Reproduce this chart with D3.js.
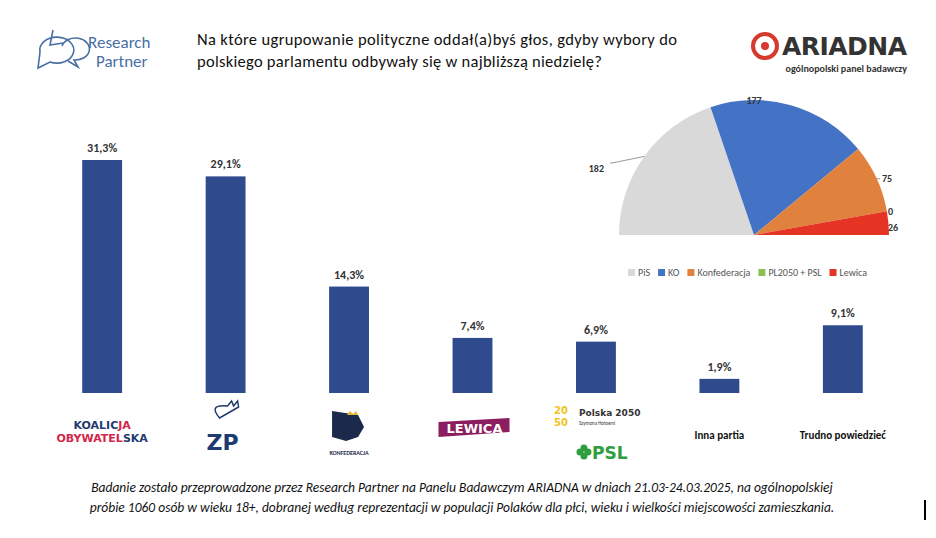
<!DOCTYPE html><html><head><meta charset="utf-8"><script src="https://cdn.jsdelivr.net/npm/d3@7"></script>
<style>body{margin:0;background:#fff}svg{font-family:Calibri,Carlito,"Open Sans",sans-serif}</style></head><body><svg id="c" width="936" height="538"></svg>
<script>
const categories=["KO","ZP","Konfederacja","Lewica","Polska 2050 / PSL","Inna partia","Trudno powiedzieć"];
const values=[31.3,29.1,14.3,7.4,6.9,1.9,9.1];
const labels=["31,3%","29,1%","14,3%","7,4%","6,9%","1,9%","9,1%"];
const seatParties=["PiS","KO","Konfederacja","PL2050 + PSL","Lewica"];
const seats=[182,177,75,0,26];
const seatColors=["#d9d9d9","#4472c4","#e0813d","#8cc152","#e53424"];
const svg=d3.select("#c");
// header
const g0=svg.append("g");
g0.append("path").attr("d","M40,52 a17,13 0 1,1 10,10 l-12,6 z").attr("fill","none").attr("stroke","#4a6fa5").attr("stroke-width",1.6);
g0.append("path").attr("d","M62,46 a14,11 0 1,1 12,14 l4,7 l-10,-6").attr("fill","none").attr("stroke","#4a6fa5").attr("stroke-width",1.6);
g0.append("path").attr("d","M53,30 l-3,15 l13,-2").attr("fill","none").attr("stroke","#4a6fa5").attr("stroke-width",1.6);
g0.append("text").attr("x",88).attr("y",48).attr("font-size",17).attr("fill","#4a6fa5").text("Research");
g0.append("text").attr("x",96).attr("y",67).attr("font-size",17).attr("fill","#4a6fa5").text("Partner");
svg.append("text").attr("x",197).attr("y",45).attr("font-size",16.5).attr("fill","#111").attr("textLength",480).text("Na które ugrupowanie polityczne oddał(a)byś głos, gdyby wybory do");
svg.append("text").attr("x",197).attr("y",67).attr("font-size",16.5).attr("fill","#111").attr("textLength",405).text("polskiego parlamentu odbywały się w najbliższą niedzielę?");
svg.append("circle").attr("cx",765).attr("cy",46).attr("r",12).attr("fill","none").attr("stroke","#d63a2f").attr("stroke-width",4);
svg.append("circle").attr("cx",765).attr("cy",46).attr("r",4).attr("fill","#d63a2f");
svg.append("text").attr("x",782).attr("y",55).attr("font-size",25).attr("font-weight","bold").attr("fill","#333").attr("font-family","DejaVu Sans").attr("textLength",125).text("ARIADNA");
svg.append("text").attr("x",907).attr("y",72).attr("text-anchor","end").attr("font-size",10).attr("font-weight","bold").attr("fill","#333").text("ogólnopolski panel badawczy");
// bars
const x=d3.scaleBand().domain(categories).range([39,906]).paddingInner(0.677).paddingOuter(0.35);
const y=d3.scaleLinear().domain([0,31.3]).range([393,160]);
svg.selectAll(".b").data(values).join("rect").attr("x",(d,i)=>x(categories[i])).attr("width",x.bandwidth()).attr("y",d=>y(d)).attr("height",d=>393-y(d)).attr("fill","#2f4b8e");
svg.selectAll(".l").data(values).join("text").attr("x",(d,i)=>x(categories[i])+x.bandwidth()/2).attr("y",d=>y(d)-8).attr("text-anchor","middle").attr("font-size",12).attr("font-weight","bold").attr("fill","#333").text((d,i)=>labels[i]);
const cx=i=>x(categories[i])+x.bandwidth()/2;
// logos (text approximations)
let t=svg.append("text").attr("x",cx(0)).attr("y",429).attr("text-anchor","middle").attr("font-size",11).attr("font-weight","bold").attr("font-family","DejaVu Sans");
t.append("tspan").attr("fill","#1f3a6e").text("KOALIC");t.append("tspan").attr("fill","#d4254b").text("JA");
t=svg.append("text").attr("x",cx(0)).attr("y",442).attr("text-anchor","middle").attr("font-size",11).attr("font-weight","bold").attr("font-family","DejaVu Sans");
t.append("tspan").attr("fill","#d4254b").text("OBYWATEL");t.append("tspan").attr("fill","#1f3a6e").text("SKA");
svg.append("path").attr("d",`M${cx(1)-6},418 q-12,-14 8,-12 l4,-5 l2,5 l4,-5 l1,6 z`).attr("fill","none").attr("stroke","#1f3a6e").attr("stroke-width",1.5);
svg.append("text").attr("x",cx(1)-3).attr("y",450).attr("text-anchor","middle").attr("font-size",22).attr("font-weight","bold").attr("fill","#1f3a6e").attr("font-family","DejaVu Sans").text("ZP");
svg.append("path").attr("d",`M${cx(2)-17},411 l26,4 l6,12 l-6,10 l-12,4 l-14,-4 z`).attr("fill","#1b2a4a");
svg.append("path").attr("d",`M${cx(2)-2},415 l3,-4 l3,3 l3,-3 l2,4 z`).attr("fill","#e5b62a");
svg.append("text").attr("x",cx(2)).attr("y",455).attr("text-anchor","middle").attr("font-size",6).attr("font-weight","bold").attr("fill","#1b2a4a").text("KONFEDERACJA");
svg.append("path").attr("d",`M${cx(3)-34},422 L${cx(3)+37},418 L${cx(3)+37},432 L${cx(3)-34},437 z`).attr("fill","#8c1d5e");
svg.append("text").attr("x",cx(3)+2).attr("y",433).attr("text-anchor","middle").attr("font-size",13).attr("font-weight","bold").attr("fill","#fff").attr("font-family","DejaVu Sans").text("LEWICA");
svg.append("text").attr("x",cx(4)-42).attr("y",414).attr("font-size",10).attr("font-weight","bold").attr("fill","#f0c419").attr("font-family","DejaVu Sans").text("20");
svg.append("text").attr("x",cx(4)-42).attr("y",426).attr("font-size",10).attr("font-weight","bold").attr("fill","#f0c419").attr("font-family","DejaVu Sans").text("50");
svg.append("text").attr("x",cx(4)-17).attr("y",416).attr("font-size",9).attr("font-weight","bold").attr("fill","#333").attr("font-family","DejaVu Sans").text("Polska 2050");
svg.append("text").attr("x",cx(4)-17).attr("y",425).attr("font-size",5).attr("fill","#333").text("Szymona Hołowni");
[[0,-4],[0,4],[-4,0],[4,0]].forEach(o=>svg.append("circle").attr("cx",cx(4)-12+o[0]).attr("cy",452+o[1]).attr("r",3.5).attr("fill","#2e9e3e"));
svg.append("text").attr("x",cx(4)-4).attr("y",459).attr("font-size",17).attr("font-weight","bold").attr("fill","#2e9e3e").attr("font-family","DejaVu Sans").text("PSL");
[5,6].forEach(i=>svg.append("text").attr("x",cx(i)).attr("y",439).attr("text-anchor","middle").attr("font-size",11).attr("font-weight","bold").attr("fill","#111").text(categories[i]));
// pie
const pc=[754,235],R=135;
const pie=d3.pie().sort(null).startAngle(-Math.PI/2).endAngle(Math.PI/2)(seats);
const arc=d3.arc().innerRadius(0).outerRadius(R);
const pg=svg.append("g").attr("transform",`translate(${pc})`);
pg.selectAll("path").data(pie).join("path").attr("d",arc).attr("fill",(d,i)=>seatColors[i]);
const lp=[[-150,-67,"end"],[0,-135,"middle"],[128,-57,"start"],[134,-24,"start"],[134,-8,"start"]];
pie.forEach((d,i)=>{
  const a=(d.startAngle+d.endAngle)/2, px=Math.sin(a)*R, py=-Math.cos(a)*R;
  if(i===0) pg.append("path").attr("d",`M${px},${py} L-142,-72 L-144,-72`).attr("stroke","#999").attr("fill","none");
  if(i===2) pg.append("path").attr("d",`M${px},${py} L126,-56`).attr("stroke","#999").attr("fill","none");
  pg.append("text").attr("x",lp[i][0]).attr("y",lp[i][1]+4).attr("text-anchor",lp[i][2]).attr("font-size",10).attr("font-weight","bold").attr("fill","#333").text(seats[i]);
});
let lx=628;
seatParties.forEach((p,i)=>{
  svg.append("rect").attr("x",lx).attr("y",269).attr("width",7).attr("height",7).attr("fill",seatColors[i]);
  const tt=svg.append("text").attr("x",lx+10).attr("y",276).attr("font-size",10).attr("fill","#555").text(p);
  lx+=10+tt.node().getComputedTextLength()+8;
});
// footnote
const fn=["Badanie zostało przeprowadzone przez Research Partner na Panelu Badawczym ARIADNA w dniach 21.03-24.03.2025, na ogólnopolskiej","próbie 1060 osób w wieku 18+, dobranej według reprezentacji w populacji Polaków dla płci, wieku i wielkości miejscowości zamieszkania."];
fn.forEach((s,i)=>svg.append("text").attr("x",462).attr("y",492+i*20).attr("text-anchor","middle").attr("font-size",13.5).attr("font-style","italic").attr("fill","#111").text(s));
svg.append("line").attr("x1",925).attr("x2",925).attr("y1",500).attr("y2",520).attr("stroke","#000").attr("stroke-width",2);
</script></body></html>
